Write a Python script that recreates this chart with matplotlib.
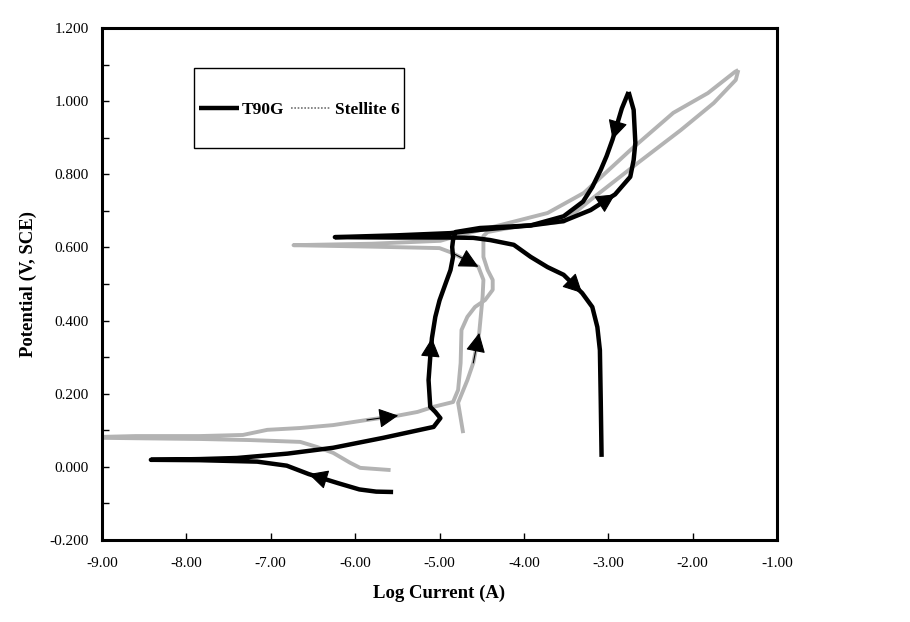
import matplotlib
matplotlib.use("Agg")
import matplotlib.pyplot as plt
from matplotlib.lines import Line2D
from matplotlib.patches import Rectangle
from matplotlib.ticker import MultipleLocator, FormatStrFormatter

plt.rcParams['font.family'] = ['Liberation Serif', 'DejaVu Serif']
plt.rcParams['axes.unicode_minus'] = False

# T90G, forward scan (cathodic -> anodic -> vertex)
t90g_fwd_x = [-5.55, -5.75, -5.95, -6.20, -6.55, -6.81, -7.16, -7.84, -8.42, -7.84, -7.40,
              -6.80, -6.26, -5.67, -5.07, -4.99, -5.05, -5.11, -5.13, -5.11, -5.09, -5.05,
              -5.00, -4.93, -4.87, -4.84, -4.85, -4.84, -4.81, -4.52, -3.92, -3.53, -3.21,
              -2.92, -2.74, -2.70, -2.68, -2.70, -2.76]
t90g_fwd_y = [-0.069, -0.068, -0.062, -0.045, -0.020, 0.003, 0.014, 0.018, 0.019, 0.021, 0.024,
              0.036, 0.052, 0.079, 0.109, 0.133, 0.150, 0.164, 0.237, 0.300, 0.352, 0.410,
              0.455, 0.500, 0.538, 0.574, 0.601, 0.620, 0.642, 0.653, 0.660, 0.672, 0.702,
              0.745, 0.793, 0.839, 0.886, 0.976, 1.025]

# T90G, reverse scan
t90g_rev_x = [-2.76, -2.84, -2.95, -3.02, -3.09, -3.19, -3.30, -3.53, -3.92, -4.52, -4.87,
              -5.50, -6.24, -5.50, -4.90, -4.60, -4.40, -4.12, -3.92, -3.72, -3.53, -3.31,
              -3.19, -3.13, -3.10, -3.09, -3.08]
t90g_rev_y = [1.025, 0.980, 0.895, 0.850, 0.812, 0.765, 0.725, 0.685, 0.660, 0.648, 0.639,
              0.633, 0.628, 0.627, 0.627, 0.626, 0.620, 0.607, 0.574, 0.546, 0.525, 0.475,
              0.437, 0.382, 0.319, 0.183, 0.027]

# Stellite 6, forward scan
stel_fwd_x = [-5.58, -5.94, -6.06, -6.26, -6.45, -6.65, -7.24, -7.84, -8.60, -9.30, -8.60,
              -7.84, -7.33, -7.04, -6.65, -6.26, -5.86, -5.49, -5.26, -5.07, -4.84, -4.78,
              -4.75, -4.74, -4.67, -4.58, -4.46, -4.37, -4.37, -4.43, -4.48, -4.48, -4.43,
              -4.04, -3.53, -3.21, -2.65, -2.14, -1.75, -1.49, -1.46]
stel_fwd_y = [-0.009, -0.003, 0.011, 0.038, 0.054, 0.068, 0.073, 0.076, 0.078, 0.080, 0.084,
              0.084, 0.087, 0.101, 0.106, 0.114, 0.128, 0.140, 0.150, 0.164, 0.177, 0.210,
              0.284, 0.374, 0.410, 0.437, 0.456, 0.484, 0.511, 0.538, 0.574, 0.631, 0.642,
              0.659, 0.670, 0.730, 0.831, 0.921, 0.995, 1.058, 1.085]

# Stellite 6, reverse scan
stel_rev_x = [-1.46, -1.50, -1.82, -2.23, -2.74, -3.29, -3.72, -4.28, -4.75, -4.99, -5.80,
              -6.73, -5.80, -5.00, -4.85, -4.54, -4.48, -4.49, -4.53, -4.60, -4.67, -4.78,
              -4.72]
stel_rev_y = [1.085, 1.080, 1.022, 0.968, 0.866, 0.749, 0.694, 0.661, 0.634, 0.618, 0.610,
              0.606, 0.602, 0.598, 0.585, 0.547, 0.511, 0.464, 0.366, 0.284, 0.237, 0.175,
              0.092]

# scan direction arrows: (tail index, tip index)
t90g_fwd_arrows = [(3, 4), (19, 20), (32, 33)]
t90g_rev_arrows = [(1, 2), (20, 21)]
stel_fwd_arrows = [(16, 17)]
stel_rev_arrows = [(14, 15), (19, 18)]

T90G_STYLE = dict(color='black', lw=3.2, solid_capstyle='butt')
STEL_STYLE = dict(color='0.7', lw=2.8, solid_capstyle='butt')


def add_arrows(ax, xs, ys, pairs):
    for a, b in pairs:
        ax.annotate('', xy=(xs[b], ys[b]), xytext=(xs[a], ys[a]),
                    arrowprops=dict(arrowstyle='-|>,head_length=0.55,head_width=0.28',
                                    mutation_scale=22, color='black', lw=0.8,
                                    shrinkA=0, shrinkB=0))


fig = plt.figure(figsize=(9.1, 6.22), dpi=100)
ax = fig.add_axes([0.112, 0.132, 0.742, 0.823])

ax.plot(stel_fwd_x, stel_fwd_y, **STEL_STYLE)
ax.plot(stel_rev_x, stel_rev_y, **STEL_STYLE)
ax.plot(t90g_fwd_x, t90g_fwd_y, **T90G_STYLE)
ax.plot(t90g_rev_x, t90g_rev_y, **T90G_STYLE)

add_arrows(ax, stel_fwd_x, stel_fwd_y, stel_fwd_arrows)
add_arrows(ax, stel_rev_x, stel_rev_y, stel_rev_arrows)
add_arrows(ax, t90g_fwd_x, t90g_fwd_y, t90g_fwd_arrows)
add_arrows(ax, t90g_rev_x, t90g_rev_y, t90g_rev_arrows)

ax.set_xlim(-9, -1)
ax.set_ylim(-0.2, 1.2)
ax.xaxis.set_major_locator(MultipleLocator(1))
ax.xaxis.set_major_formatter(FormatStrFormatter('%.2f'))
ax.yaxis.set_major_locator(MultipleLocator(0.2))
ax.yaxis.set_minor_locator(MultipleLocator(0.1))
ax.yaxis.set_major_formatter(FormatStrFormatter('%.3f'))
ax.tick_params(axis='x', which='major', direction='in', length=5, width=1, labelsize=11, pad=12.5)
ax.tick_params(axis='y', which='both', direction='in', length=5, width=1, labelsize=11, pad=9.5)
for s in ax.spines.values():
    s.set_linewidth(2.2)

ax.set_xlabel('Log Current (A)', fontsize=13.5, fontweight='bold', labelpad=10.5)
ax.set_ylabel('Potential (V, SCE)', fontsize=13.5, fontweight='bold', labelpad=9)

ax.add_patch(Rectangle((0.136, 0.766), 0.311, 0.156, transform=ax.transAxes,
                       fill=False, lw=1.0, ec='black', zorder=5))
handles = [Line2D([], [], **T90G_STYLE),
           Line2D([], [], color='0.45', lw=1.2, ls=(0, (1, 1)))]
ax.legend(handles, ['T90G', 'Stellite 6'], ncol=2, frameon=False,
          loc='center', bbox_to_anchor=(0.292, 0.84),
          prop=dict(weight='bold', size=12.5), handlelength=2.3,
          handletextpad=0.2, columnspacing=0.4)

fig.savefig('out.png', dpi=100)
